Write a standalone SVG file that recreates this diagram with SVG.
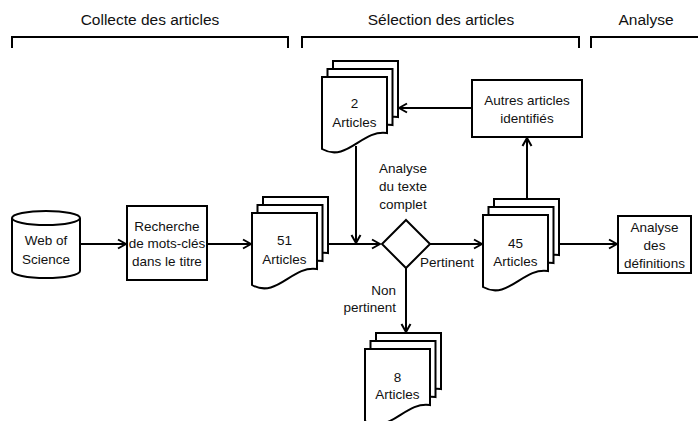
<svg xmlns="http://www.w3.org/2000/svg" width="698" height="421" viewBox="0 0 698 421">
<defs>
<style>
text{font-family:"Liberation Sans",Arial,sans-serif;font-size:13.5px;fill:#111;text-anchor:middle}
.title{font-size:15.5px}
.shape{fill:#fff;stroke:#000;stroke-width:2}
.br{fill:none;stroke:#000;stroke-width:2}
.conn{fill:none;stroke:#000;stroke-width:2;marker-end:url(#arr)}
.line{fill:none;stroke:#000;stroke-width:2}
</style>
<marker id="arr" viewBox="0 0 12 12" refX="11" refY="6" markerWidth="12" markerHeight="12" markerUnits="userSpaceOnUse" orient="auto">
<path d="M3,1.5 L11,6 L3,10.5" fill="none" stroke="#000" stroke-width="2"/>
</marker>
<path id="doc" d="M0,0 H65 V56 C40,52 25,86 0,72 Z"/>
</defs>
<rect width="698" height="421" fill="#fff"/>

<g id="titles">
<text class="title" x="150" y="25">Collecte des articles</text>
<text class="title" x="441" y="25">Sélection des articles</text>
<text class="title" x="646" y="25">Analyse</text>
<path class="br" d="M12,48 V37 H288 V48"/>
<path class="br" d="M302,48 V37 H579 V48"/>
<path class="br" d="M591,48 V37 H698"/>
</g>

<g id="connectors">
<line class="conn" x1="81" y1="244" x2="126" y2="244"/>
<line class="conn" x1="207" y1="244" x2="251" y2="244"/>
<line class="line" x1="328" y1="244" x2="356" y2="244"/>
<line class="conn" x1="356" y1="244" x2="380" y2="244"/>
<line class="conn" x1="356" y1="146" x2="356" y2="243"/>
<line class="conn" x1="430" y1="244" x2="482" y2="244"/>
<line class="conn" x1="560" y1="244" x2="617" y2="244"/>
<line class="conn" x1="527" y1="199" x2="527" y2="138"/>
<line class="conn" x1="472" y1="108" x2="399" y2="108"/>
<line class="conn" x1="406" y1="268" x2="406" y2="332"/>
<text x="447" y="267">Pertinent</text>
<text x="396" y="295" style="text-anchor:end">Non</text>
<text x="396" y="312" style="text-anchor:end">pertinent</text>
<text x="403" y="173">Analyse</text>
<text x="403" y="191">du texte</text>
<text x="403" y="209">complet</text>
</g>

<g id="web-of-science">
<path class="shape" d="M12,218 A34,7 0 0 1 80,218 V271 A34,7 0 0 1 12,271 Z"/>
<path class="line" d="M12,218 A34,7 0 0 0 80,218"/>
<text x="46" y="245">Web of</text>
<text x="46" y="264">Science</text>
</g>

<g id="recherche">
<rect class="shape" x="127" y="206" width="80" height="74"/>
<text x="167" y="231">Recherche</text>
<text x="167" y="248">de mots-clés</text>
<text x="167" y="266">dans le titre</text>
</g>

<g id="articles-51">
<use href="#doc" class="shape" x="263" y="197"/>
<use href="#doc" class="shape" x="257.5" y="205"/>
<use href="#doc" class="shape" x="252" y="213"/>
<text x="284.5" y="245">51</text>
<text x="284.5" y="264">Articles</text>
</g>

<g id="articles-2">
<use href="#doc" class="shape" x="333" y="61"/>
<use href="#doc" class="shape" x="327.5" y="69"/>
<use href="#doc" class="shape" x="322" y="77"/>
<text x="354.5" y="108">2</text>
<text x="354.5" y="127">Articles</text>
</g>

<g id="decision">
<path class="shape" d="M406,220 L430,244 L406,268 L382,244 Z"/>
</g>

<g id="articles-45">
<use href="#doc" class="shape" x="494" y="199"/>
<use href="#doc" class="shape" x="488.5" y="207"/>
<use href="#doc" class="shape" x="483" y="215"/>
<text x="515.5" y="248">45</text>
<text x="515.5" y="266">Articles</text>
</g>

<g id="articles-8">
<use href="#doc" class="shape" x="376" y="333"/>
<use href="#doc" class="shape" x="370.5" y="341"/>
<use href="#doc" class="shape" x="365" y="349"/>
<text x="397.5" y="382">8</text>
<text x="397.5" y="399">Articles</text>
</g>

<g id="autres">
<rect class="shape" x="472" y="80" width="110" height="57"/>
<text x="527" y="105">Autres articles</text>
<text x="527" y="123">identifiés</text>
</g>

<g id="analyse-definitions">
<rect class="shape" x="618" y="216" width="73" height="57"/>
<text x="654.5" y="232">Analyse</text>
<text x="654.5" y="250">des</text>
<text x="654.5" y="268">définitions</text>
</g>
</svg>
